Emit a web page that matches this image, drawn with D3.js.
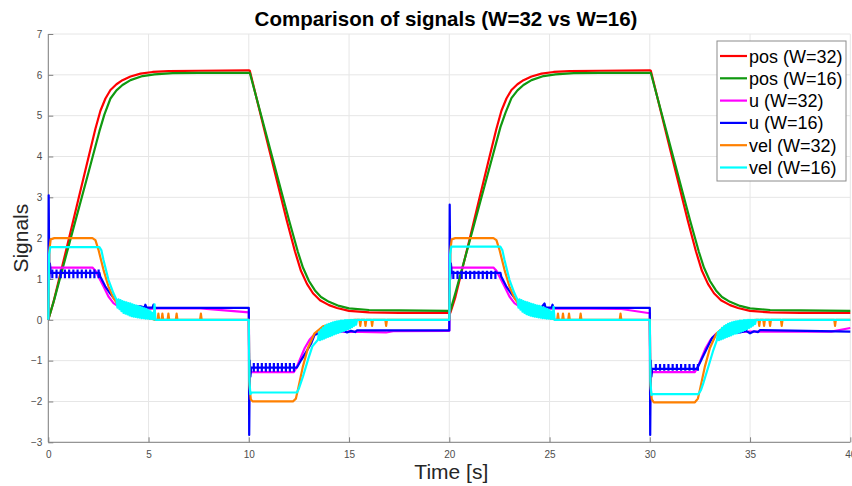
<!DOCTYPE html>
<html><head><meta charset="utf-8">
<script src="https://cdn.jsdelivr.net/npm/d3@7"></script>
<style>html,body{margin:0;padding:0;background:#fff;}svg{display:block;}</style>
</head><body>
<svg id="chart" width="852" height="486"></svg>
<script>
// ---------- data ----------
const titleText = "Comparison of signals (W=32 vs W=16)";
const xLabel = "Time [s]";
const yLabel = "Signals";
const xTicks = [0,5,10,15,20,25,30,35,40];
const yTicks = [-3,-2,-1,0,1,2,3,4,5,6,7];
const seriesNames = ["pos (W=32)","pos (W=16)","u (W=32)","u (W=16)","vel (W=32)","vel (W=16)"];
const seriesColors = ["#ff0000","#109910","#ff00ff","#0000ff","#ff8000","#00ffff"];

const posW32 = [[0,0],[0.25,0.42],[0.6,1.12],[1,1.93],[1.5,2.95],[2,3.97],[2.35,4.68],[2.6,5.12],[2.85,5.42],[3.1,5.63],[3.4,5.77],[3.7,5.87],[4.1,5.96],[4.6,6.03],[5.2,6.07],[6,6.09],[7.5,6.1],[10,6.11],
 [10.05,6.1],[11,4.2],[11.9,2.42],[12.3,1.68],[12.6,1.2],[12.9,0.88],[13.2,0.65],[13.55,0.48],[14,0.36],[14.4,0.29],[15,0.22],[16,0.18],[17.5,0.17],[20,0.17],
 [20.05,0.17],[20.3,0.55],[20.6,1.15],[21,1.95],[21.5,2.97],[22,3.98],[22.35,4.68],[22.6,5.12],[22.85,5.42],[23.1,5.63],[23.4,5.77],[23.7,5.87],[24.1,5.96],[24.6,6.03],[25.2,6.07],[26,6.09],[27.5,6.1],[30,6.11],
 [30.05,6.1],[31,4.2],[31.9,2.42],[32.3,1.68],[32.6,1.2],[32.9,0.88],[33.2,0.65],[33.55,0.48],[34,0.36],[34.4,0.29],[35,0.22],[36,0.18],[37.5,0.17],[40,0.17]];

const posW16 = [[0,0],[0.3,0.5],[1,1.78],[2,3.6],[2.55,4.62],[2.8,5.03],[3.1,5.42],[3.4,5.62],[3.7,5.75],[4.1,5.87],[4.7,5.97],[5.3,6.01],[6.2,6.04],[7.5,6.05],[10,6.05],
 [10.05,6.05],[11,4.3],[12,2.45],[12.45,1.66],[12.7,1.28],[13,0.95],[13.3,0.72],[13.6,0.56],[14,0.44],[14.5,0.34],[15,0.28],[16,0.24],[17.5,0.23],[20,0.22],
 [20.05,0.22],[20.3,0.65],[21,1.9],[22,3.72],[22.55,4.72],[22.8,5.07],[23.1,5.43],[23.4,5.62],[23.7,5.75],[24.1,5.87],[24.7,5.97],[25.3,6.01],[26.2,6.04],[27.5,6.05],[30,6.05],
 [30.05,6.05],[31,4.3],[32,2.45],[32.45,1.66],[32.7,1.28],[33,0.95],[33.3,0.72],[33.6,0.56],[34,0.44],[34.5,0.34],[35,0.28],[36,0.24],[37.5,0.23],[40,0.22]];

const uW32 = [[0,0],[0.03,1.0],[0.08,1.28],[2.2,1.28],[2.35,1.2],[2.5,1.06],[2.75,0.82],[3.0,0.57],[3.25,0.41],[3.58,0.3],[4,0.27],[4.5,0.26],[5,0.27],[5.5,0.28],[7.6,0.28],[10,0.18],
 [10.02,-1.0],[10.08,-1.3],[10.15,-1.28],[12.25,-1.28],[12.4,-1.15],[12.54,-0.98],[12.79,-0.69],[13.03,-0.49],[13.28,-0.35],[13.6,-0.3],[14.2,-0.3],[15,-0.29],[16.85,-0.31],[17.2,-0.28],[20,-0.27],
 [20.03,1.0],[20.08,1.28],[22.2,1.28],[22.35,1.2],[22.5,1.06],[22.75,0.82],[23.0,0.57],[23.25,0.41],[23.58,0.3],[24,0.27],[25,0.27],[25.5,0.28],[28.5,0.27],[30,0.16],
 [30.02,-1.0],[30.08,-1.3],[30.15,-1.28],[32.25,-1.28],[32.4,-1.15],[32.54,-0.98],[32.79,-0.69],[33.03,-0.49],[33.28,-0.35],[33.6,-0.3],[34.2,-0.3],[35,-0.29],[39.05,-0.29],[40,-0.2]];

const uW16 = [[0,0],[0.02,3.05],[0.05,1.0],[0.08,1.38],[0.12,1.15],[2.55,1.15],[2.59,1.06],[2.84,0.82],[3.08,0.65],[3.33,0.49],[3.58,0.37],[3.8,0.33],[4.0,0.3],[4.3,0.32],[4.6,0.33],[4.8,0.3],[4.84,0.37],[4.9,0.3],[5.2,0.3],[5.25,0.37],[5.3,0.29],[10,0.29],
 [10.02,-2.82],[10.05,-1.0],[10.08,-1.39],[10.12,-1.17],[12.4,-1.17],[12.62,-0.98],[12.87,-0.78],[13.12,-0.57],[13.28,-0.37],[13.5,-0.33],[14,-0.3],[14.3,-0.28],[14.5,-0.3],[14.7,-0.26],[14.9,-0.31],[15.1,-0.27],[15.3,-0.3],[15.4,-0.26],[20,-0.26],
 [20.02,2.82],[20.05,1.0],[20.08,1.38],[20.12,1.15],[22.55,1.15],[22.59,1.06],[22.84,0.82],[23.08,0.65],[23.33,0.49],[23.58,0.37],[23.8,0.33],[24.0,0.3],[24.3,0.32],[24.6,0.31],[24.75,0.4],[24.8,0.3],[25.1,0.3],[25.15,0.37],[25.2,0.29],[30,0.29],
 [30.02,-2.82],[30.05,-1.0],[30.08,-1.39],[30.12,-1.2],[32.35,-1.2],[32.5,-1.05],[32.7,-0.85],[32.9,-0.65],[33.1,-0.45],[33.3,-0.36],[33.8,-0.33],[34.5,-0.31],[34.8,-0.27],[35.0,-0.33],[35.2,-0.28],[35.4,-0.3],[35.5,-0.25],[40,-0.29]];

// short glitch "teeth" on u (W=16): [time, low, high]
const uW16Teeth = [[0.2,1.02,1.23],[0.41,1.02,1.23],[0.62,1.02,1.23],[0.83,1.02,1.23],[1.04,1.02,1.23],[1.25,1.02,1.23],[1.46,1.02,1.23],[1.67,1.02,1.23],[1.88,1.02,1.23],[2.09,1.02,1.23],[2.3,1.02,1.23],[2.51,1.02,1.23],
 [10.25,-1.27,-1.06],[10.45,-1.27,-1.06],[10.65,-1.27,-1.06],[10.85,-1.27,-1.06],[11.05,-1.27,-1.06],[11.25,-1.27,-1.06],[11.45,-1.27,-1.06],[11.65,-1.27,-1.06],[11.85,-1.27,-1.06],[12.05,-1.27,-1.06],[12.25,-1.27,-1.06],
 [20.2,1.0,1.2],[20.41,1.0,1.2],[20.62,1.0,1.2],[20.83,1.0,1.2],[21.04,1.0,1.2],[21.25,1.0,1.2],[21.46,1.0,1.2],[21.67,1.0,1.2],[21.88,1.0,1.2],[22.09,1.0,1.2],[22.3,1.0,1.2],
 [30.3,-1.25,-1.08],[30.51,-1.25,-1.08],[30.72,-1.25,-1.08],[30.93,-1.25,-1.08],[31.14,-1.25,-1.08],[31.35,-1.25,-1.08],[31.56,-1.25,-1.08],[31.77,-1.25,-1.08],[31.98,-1.25,-1.08],[32.19,-1.25,-1.08],[32.4,-1.25,-1.08]];

const velW32 = [[0,0],[0.05,1.7],[0.12,1.97],[0.3,2.0],[2.2,2.0],[2.35,1.95],[2.5,1.72],[2.75,1.23],[3.0,0.82],[3.25,0.53],[3.58,0.29],[4.08,0.16],[4.58,0.08],[5.2,0.02],[5.3,0],
 [5.45,0],[5.49,0.15],[5.53,0],[5.65,0],[5.69,0.15],[5.73,0],[5.95,0],[5.99,0.15],[6.03,0],[6.36,0],[6.4,0.15],[6.44,0],[7.57,0],[7.61,0.15],[7.65,0],[10,0],
 [10.03,-1.6],[10.1,-1.95],[10.2,-2.0],[12.2,-2.0],[12.35,-1.93],[12.45,-1.71],[12.7,-1.14],[12.95,-0.69],[13.28,-0.33],[13.7,-0.16],[14.36,-0.07],[15.0,-0.02],[15.3,0],
 [15.52,0],[15.56,-0.15],[15.6,0],[15.78,0],[15.82,-0.15],[15.86,0],[16.11,0],[16.15,-0.15],[16.19,0],[16.81,0],[16.85,-0.15],[16.89,0],[20,0],
 [20.05,1.7],[20.12,1.97],[20.3,2.0],[22.2,2.0],[22.35,1.95],[22.5,1.72],[22.75,1.23],[23.0,0.82],[23.25,0.53],[23.58,0.29],[24.08,0.16],[24.58,0.08],[25.2,0.02],[25.3,0],
 [25.38,0],[25.42,0.15],[25.46,0],[25.63,0],[25.67,0.15],[25.71,0],[25.93,0],[25.97,0.15],[26.01,0],[26.51,0],[26.55,0.15],[26.59,0],[28.5,0],[28.54,0.15],[28.58,0],[30,0],
 [30.03,-1.6],[30.1,-1.95],[30.2,-2.02],[32.25,-2.02],[32.4,-1.93],[32.5,-1.71],[32.75,-1.14],[33.0,-0.69],[33.33,-0.33],[33.75,-0.16],[34.4,-0.07],[35.0,-0.02],[35.3,0],
 [35.42,0],[35.46,-0.15],[35.5,0],[35.66,0],[35.7,-0.15],[35.74,0],[35.96,0],[36.0,-0.15],[36.04,0],[36.54,0],[36.58,-0.15],[36.62,0],[39.2,0],[39.24,-0.15],[39.28,0],[40,0]];

const velW16 = [[0,0],[0.04,1.6],[0.1,1.78],[2.55,1.78],[2.65,1.7],[2.75,1.47],[3.0,0.98],[3.25,0.65],[3.4,0.49],
 [3.45,0.3],[3.5,0.5],[3.55,0.26],[3.6,0.48],[3.65,0.21],[3.7,0.46],[3.75,0.17],[3.8,0.44],[3.85,0.15],[3.9,0.43],[3.95,0.13],[4.0,0.41],[4.05,0.11],[4.1,0.4],[4.15,0.09],[4.2,0.38],[4.25,0.08],[4.3,0.36],[4.35,0.07],[4.4,0.35],[4.45,0.06],[4.5,0.33],[4.55,0.05],[4.6,0.32],[4.65,0.04],[4.7,0.3],[4.75,0.04],[4.8,0.28],[4.85,0.03],[4.9,0.26],[4.95,0.03],[5.0,0.24],[5.05,0.02],[5.1,0.21],[5.15,0.02],[5.2,0.17],[5.25,0.01],[5.3,0.38],[5.34,0],[10,0],
 [10.03,-1.5],[10.08,-1.82],[10.15,-1.78],[12.4,-1.78],[12.5,-1.68],[12.7,-1.39],[12.95,-0.98],[13.17,-0.65],[13.45,-0.49],
 [13.5,-0.3],[13.55,-0.5],[13.6,-0.24],[13.65,-0.48],[13.7,-0.19],[13.75,-0.46],[13.8,-0.15],[13.85,-0.44],[13.9,-0.12],[13.95,-0.42],[14.0,-0.1],[14.05,-0.4],[14.1,-0.08],[14.15,-0.38],[14.2,-0.06],[14.25,-0.36],[14.3,-0.05],[14.35,-0.34],[14.4,-0.04],[14.45,-0.32],[14.5,-0.03],[14.55,-0.3],[14.6,-0.02],[14.65,-0.29],[14.7,-0.02],[14.75,-0.27],[14.8,-0.01],[14.85,-0.25],[14.9,-0.01],[14.95,-0.23],[15.0,-0.01],[15.05,-0.21],[15.1,0],[15.15,-0.18],[15.2,0],[15.25,-0.15],[15.3,0],[15.35,-0.12],[15.4,0],[20,0],
 [20.04,1.6],[20.1,1.79],[22.55,1.79],[22.65,1.7],[22.75,1.47],[23.0,0.98],[23.25,0.65],[23.4,0.49],
 [23.45,0.3],[23.5,0.5],[23.55,0.25],[23.6,0.48],[23.65,0.2],[23.7,0.46],[23.75,0.17],[23.8,0.44],[23.85,0.14],[23.9,0.43],[23.95,0.12],[24.0,0.41],[24.05,0.1],[24.1,0.39],[24.15,0.09],[24.2,0.38],[24.25,0.08],[24.3,0.36],[24.35,0.07],[24.4,0.35],[24.45,0.06],[24.5,0.34],[24.55,0.05],[24.6,0.32],[24.65,0.04],[24.7,0.3],[24.75,0.04],[24.8,0.28],[24.85,0.03],[24.9,0.26],[24.95,0.03],[25.0,0.24],[25.05,0.02],[25.1,0.2],[25.15,0.02],[25.2,0.32],[25.25,0],[30,0],
 [30.03,-1.5],[30.08,-1.84],[30.15,-1.82],[32.42,-1.82],[32.55,-1.72],[32.67,-1.55],[32.92,-1.15],[33.17,-0.74],[33.35,-0.49],
 [33.4,-0.3],[33.45,-0.5],[33.5,-0.25],[33.55,-0.48],[33.6,-0.2],[33.65,-0.46],[33.7,-0.16],[33.75,-0.44],[33.8,-0.13],[33.85,-0.42],[33.9,-0.1],[33.95,-0.4],[34.0,-0.08],[34.05,-0.38],[34.1,-0.06],[34.15,-0.36],[34.2,-0.05],[34.25,-0.34],[34.3,-0.04],[34.35,-0.33],[34.4,-0.03],[34.45,-0.31],[34.5,-0.02],[34.55,-0.29],[34.6,-0.02],[34.65,-0.27],[34.7,-0.01],[34.75,-0.25],[34.8,-0.01],[34.85,-0.23],[34.9,0],[34.95,-0.2],[35.0,0],[35.05,-0.17],[35.1,0],[35.15,-0.14],[35.2,0],[35.25,-0.1],[35.3,0],[40,0]];

const allSeries = [posW32, posW16, uW32, uW16, velW32, velW16];

// ---------- drawing ----------
const svg = d3.select("#chart");
const W = 852, H = 486;
const m = {left:48.3, right:850.3, top:34, bottom:442.3};
const x = d3.scaleLinear().domain([0,40]).range([m.left, m.right]);
const y = d3.scaleLinear().domain([-3,7]).range([m.bottom, m.top]);
const font = "'Liberation Sans', Arial, Helvetica, sans-serif";

svg.append("rect").attr("width",W).attr("height",H).attr("fill","#fff");

// grid
const grid = svg.append("g");
grid.selectAll(".gx").data(xTicks).join("line")
  .attr("x1",d=>x(d)).attr("x2",d=>x(d)).attr("y1",m.top).attr("y2",m.bottom)
  .attr("stroke","#e6e6e6").attr("stroke-width",1);
grid.selectAll(".gy").data(yTicks).join("line")
  .attr("x1",m.left).attr("x2",m.right).attr("y1",d=>y(d)).attr("y2",d=>y(d))
  .attr("stroke","#e6e6e6").attr("stroke-width",1);

// axes
const xAxis = d3.axisBottom(x).tickValues(xTicks).tickSize(-5).tickPadding(9).tickFormat(d3.format("d"));
const yAxis = d3.axisLeft(y).tickValues(yTicks).tickSize(-5).tickPadding(6).tickFormat(d3.format("d"));
const gx = svg.append("g").attr("transform",`translate(0,${m.bottom})`).call(xAxis);
const gy = svg.append("g").attr("transform",`translate(${m.left},0)`).call(yAxis);
[gx,gy].forEach(g=>{
  g.select(".domain").attr("stroke","#808080").attr("stroke-width",1);
  g.selectAll(".tick line").attr("stroke","#808080");
  g.selectAll("text").attr("fill","#4d4d4d").style("font-family",font).style("font-size","10px");
});
gy.select(".domain").attr("d",`M0,${m.bottom}V${m.top}`);
gx.select(".domain").attr("d",`M${m.left},0H${m.right}`);

// clip
svg.append("clipPath").attr("id","clip").append("rect")
  .attr("x",m.left-2).attr("y",m.top-2).attr("width",m.right-m.left+4).attr("height",m.bottom-m.top+2);
const plot = svg.append("g").attr("clip-path","url(#clip)");
const line = d3.line().x(d=>x(d[0])).y(d=>y(d[1]));

allSeries.forEach((s,i)=>{
  plot.append("path").datum(s).attr("d",line).attr("fill","none")
    .attr("stroke",seriesColors[i]).attr("stroke-width",2.2).attr("stroke-linejoin","round");
  if(i===3){
    plot.append("g").selectAll("line").data(uW16Teeth).join("line")
      .attr("x1",d=>x(d[0])).attr("x2",d=>x(d[0])).attr("y1",d=>y(d[1])).attr("y2",d=>y(d[2]))
      .attr("stroke",seriesColors[3]).attr("stroke-width",2.2);
  }
});

// title & labels
svg.append("text").attr("x",446).attr("y",26).attr("text-anchor","middle")
  .style("font-family",font).style("font-size","20.5px").style("font-weight","bold").attr("fill","#000").text(titleText);
svg.append("text").attr("x",(m.left+m.right)/2 + 2).attr("y",479).attr("text-anchor","middle")
  .style("font-family",font).style("font-size","21px").attr("fill","#262626").text(xLabel);
svg.append("text").attr("transform",`translate(28,${(m.top+m.bottom)/2}) rotate(-90)`).attr("text-anchor","middle")
  .style("font-family",font).style("font-size","21px").attr("fill","#262626").text(yLabel);

// legend
const lg = svg.append("g");
lg.append("rect").attr("x",717).attr("y",41).attr("width",129).attr("height",140)
  .attr("fill","#fff").attr("stroke","#8c8c8c").attr("stroke-width",1);
const rowY = d3.scaleLinear().domain([0,5]).range([56,167.5]);
seriesNames.forEach((n,i)=>{
  lg.append("line").attr("x1",720).attr("x2",747).attr("y1",rowY(i)).attr("y2",rowY(i))
    .attr("stroke",seriesColors[i]).attr("stroke-width",2.2);
  lg.append("text").attr("x",749).attr("y",rowY(i)+6.5)
    .style("font-family",font).style("font-size","18px").attr("fill","#000").text(n);
});
</script>
</body></html>
